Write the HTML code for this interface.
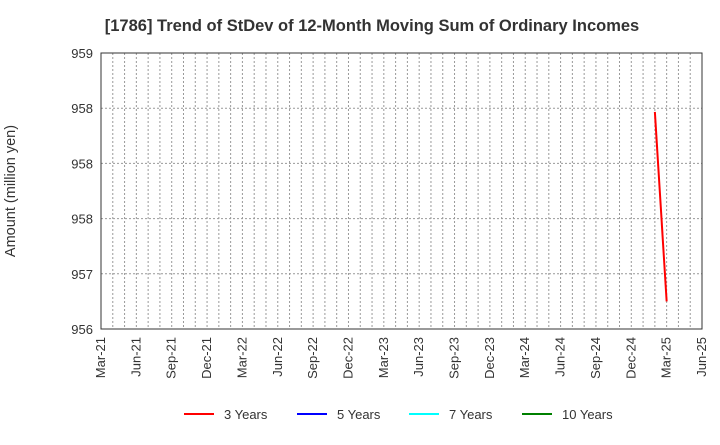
<!DOCTYPE html>
<html><head><meta charset="utf-8"><style>
body{margin:0;background:#fff;font-family:"Liberation Sans",Arial,sans-serif}
svg text{font-family:"Liberation Sans",Arial,sans-serif}
</style></head><body>
<svg id="chart" width="720" height="440" xmlns="http://www.w3.org/2000/svg">
<text x="372" y="31" text-anchor="middle" font-size="16.5" font-weight="bold" fill="#333">[1786]  Trend of StDev of 12-Month Moving Sum of Ordinary Incomes</text>
<text transform="translate(15,191) rotate(-90)" text-anchor="middle" font-size="14.5" fill="#333">Amount (million yen)</text>
<g id="grid"></g><g id="axes"></g><g id="series"></g><g id="legend"></g>
</svg>
<script>
const yTickLabels=["956","957","958","958","958","959"];
const yMin=956, yMax=959;
const xTickLabels=["Mar-21","Jun-21","Sep-21","Dec-21","Mar-22","Jun-22","Sep-22","Dec-22","Mar-23","Jun-23","Sep-23","Dec-23","Mar-24","Jun-24","Sep-24","Dec-24","Mar-25","Jun-25"];
const months3=[47,48]; // month index from Mar-21
const values3=[958.36,956.30];
const legendNames=["3 Years","5 Years","7 Years","10 Years"];
const legendColors=["#ff0000","#0000ff","#00ffff","#008000"];
const L=101,R=702,T=53,B=329,totalMonths=51;
const NS="http://www.w3.org/2000/svg";
const xs=m=>L+(R-L)*m/totalMonths;
const ys=v=>B-(B-T)*(v-yMin)/(yMax-yMin);
function mk(tag,attrs,parent){const e=document.createElementNS(NS,tag);for(const k in attrs)e.setAttribute(k,attrs[k]);parent.appendChild(e);return e;}
const grid=document.getElementById('grid'),axes=document.getElementById('axes'),ser=document.getElementById('series'),leg=document.getElementById('legend');
for(let m=1;m<totalMonths;m++){const l=mk('line',{x1:xs(m),x2:xs(m),y1:T,y2:B,stroke:'#999','stroke-dasharray':'2,2','stroke-width':1},grid);

}
yTickLabels.forEach((t,i)=>{const v=yMin+i*(yMax-yMin)/(yTickLabels.length-1);const y=ys(v);
if(i>0&&i<yTickLabels.length-1){const g=mk('line',{x1:L,x2:R,y1:y,y2:y,stroke:'#999','stroke-dasharray':'2,2'},grid);

}
const tx=mk('text',{x:L-8,y:y+5,'text-anchor':'end','font-size':13,fill:'#333'},axes);tx.textContent=t;

});
xTickLabels.forEach((t,i)=>{const x=xs(i*3);const tx=mk('text',{transform:`translate(${x+4},${B+8}) rotate(-90)`,'text-anchor':'end','font-size':13,fill:'#333'},axes);tx.textContent=t;

});
const fr=mk('rect',{x:L,y:T,width:R-L,height:B-T,fill:'none',stroke:'#333','stroke-width':1},axes);


const pl=mk('polyline',{points:months3.map((m,i)=>xs(m)+','+ys(values3[i])).join(' '),fill:'none',stroke:'#ff0000','stroke-width':2},ser);


const lx=[184,297,409,522];
legendNames.forEach((n,i)=>{const g=mk('g',{},leg);


mk('line',{x1:lx[i],x2:lx[i]+30,y1:414,y2:414,stroke:legendColors[i],'stroke-width':2},g);
const t=mk('text',{x:lx[i]+40,y:419,'font-size':13,fill:'#333'},g);t.textContent=n;});
</script>
</body></html>
